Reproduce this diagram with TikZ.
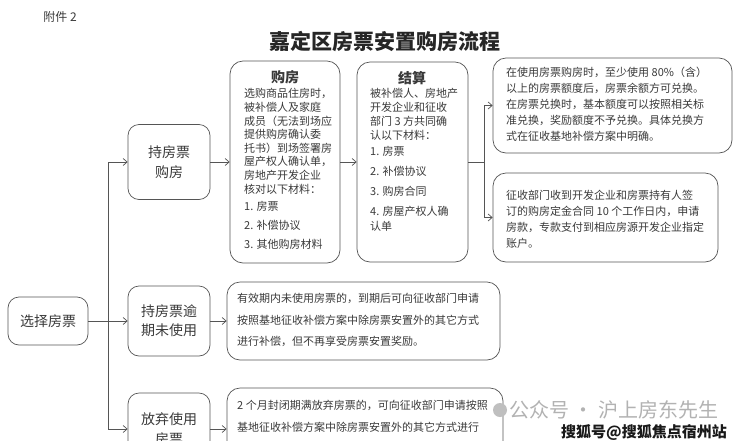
\documentclass[tikz,border=0pt]{standalone}
\usepackage{fontspec}
\setmainfont{Noto Sans CJK SC}
\usetikzlibrary{arrows.meta}
\definecolor{ink}{HTML}{3A3A3A}
\definecolor{edge}{HTML}{555555}
\newcommand\myfs[2]{\fontsize{#1}{#2}\selectfont}
\begin{document}
\begin{tikzpicture}[x=1pt,y=-1pt,
  box/.style={draw=edge, line width=0.7pt, rounded corners=11pt, inner sep=0pt, text=ink, align=center},
  txt/.style={inner sep=0pt, anchor=north west, align=left, text=ink},
  ttl/.style={inner sep=0pt, text=ink, font=\myfs{14}{16}\bfseries},
  arr/.style={draw=edge, line width=0.7pt, -{Straight Barb[length=4pt,width=7pt]}},
  ln/.style={draw=edge, line width=0.7pt}]
\clip (0,0) rectangle (740,440);
\fill[white] (0,0) rectangle (740,440);

% header
\node[inner sep=0pt, text=ink, font=\myfs{12}{14}] (att) at (60,17) {附件 2};
\node[inner sep=0pt, text=black!85, font=\myfs{21}{24}\bfseries] (title) at (385,42) {嘉定区房票安置购房流程};

% left column
\node[box, minimum width=80pt, minimum height=48pt, font=\myfs{14}{18}] (sel) at (48,321) {选择房票};
\node[box, minimum width=82pt, minimum height=75pt, font=\myfs{14}{20}] (b1) at (169,162) {持房票\\购房};
\node[box, minimum width=82pt, minimum height=70pt, font=\myfs{14}{19}] (b2) at (169,321) {持房票逾\\期未使用};
\node[box, minimum width=82pt, minimum height=72pt, font=\myfs{14}{20}] (b3) at (169,429) {放弃使用\\房票};

% purchase and settlement boxes
\node[box, rounded corners=13pt, minimum width=110pt, minimum height=202pt] (gf) at (285,162) {};
\node[box, rounded corners=13pt, minimum width=111pt, minimum height=200pt] (js) at (412.5,162) {};
\node[box, rounded corners=13pt, minimum width=239pt, minimum height=95pt] (ba) at (612.5,105.5) {};
\node[box, rounded corners=13pt, minimum width=225pt, minimum height=89pt] (bb) at (605.5,217.5) {};
\node[box, rounded corners=13pt, minimum width=273pt, minimum height=78pt] (yq) at (363.5,321) {};
\node[box, rounded corners=13pt, minimum width=276pt, minimum height=82pt] (fq) at (365,429) {};

% texts in purchase box
\node[ttl] (gft) at (285,77) {购房};
\node[txt, font=\myfs{11}{13.6}] (gfb) at (244,88.5) {选购商品住房时，\\被补偿人及家庭\\成员（无法到场应\\提供购房确认委\\托书）到场签署房\\屋产权人确认单，\\房地产开发企业\\核对以下材料：};
\node[txt, font=\myfs{11}{19}] (gfl) at (244,201.5) {1. 房票\\2. 补偿协议\\3. 其他购房材料};

% texts in settlement box
\node[ttl] (jst) at (412,78) {结算};
\node[txt, font=\myfs{11}{14}] (jsb) at (370,88.5) {被补偿人、房地产\\开发企业和征收\\部门 3 方共同确\\认以下材料：};
\node[txt, font=\myfs{11}{20}] (jsl) at (370,146.5) {1. 房票\\2. 补偿协议\\3. 购房合同};
\node[txt, font=\myfs{11}{15}] (jsl4) at (370,206.5) {4. 房屋产权人确\\认单};

% right boxes
\node[txt, font=\myfs{11}{16}] (bat) at (506,66.5) {在使用房票购房时，至少使用 80\%（含）\\以上的房票额度后，房票余额方可兑换。\\在房票兑换时，基本额度可以按照相关标\\准兑换，奖励额度不予兑换。具体兑换方\\式在征收基地补偿方案中明确。};
\node[txt, font=\myfs{11}{16}] (bbt) at (506,189.5) {征收部门收到开发企业和房票持有人签\\订的购房定金合同 10 个工作日内，申请\\房款，专款支付到相应房源开发企业指定\\账户。};

% lower boxes
\node[txt, font=\myfs{11}{21.5}] (yqt) at (237,293.5) {有效期内未使用房票的，到期后可向征收部门申请\\按照基地征收补偿方案中除房票安置外的其它方式\\进行补偿，但不再享受房票安置奖励。};
\node[txt, font=\myfs{11}{22}] (fqt) at (237,399.5) {2 个月封闭期满放弃房票的，可向征收部门申请按照\\基地征收补偿方案中除房票安置外的其它方式进行};

% connectors
\coordinate (trunk) at (108,321);
\coordinate (split) at (484,162);
\draw[arr] (sel.east) -- (b2.west);
\draw[arr] (trunk) |- (b1.west);
\draw[arr] (trunk) |- (b3.west);
\draw[arr] (b1.east) -- (b1.east -| gf.west);
\draw[arr] (gf.east) -- (gf.east -| js.west);
\draw[ln] (js.east) -- (split);
\draw[arr] (split) |- (ba.west);
\draw[arr] (split) |- (bb.west);
\draw[arr] (b2.east) -- (b2.east -| yq.west);
\draw[arr] (b3.east) -- (b3.east -| fq.west);

% watermarks
\fill[black!25] (500,410) circle (7pt);
\node[inner sep=0pt, text=black!30, font=\myfs{20}{22}] (wm1) at (614,410) {公众号 · 沪上房东先生};
\node[inner sep=0pt, text=black!90, font=\myfs{15}{17}\bfseries] (wm2) at (644,432) {搜狐号@搜狐焦点宿州站};
\end{tikzpicture}
\end{document}
